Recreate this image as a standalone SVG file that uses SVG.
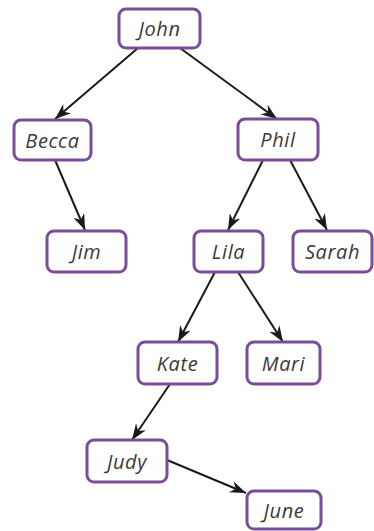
<svg xmlns="http://www.w3.org/2000/svg" width="374" height="531" viewBox="0 0 374 531">
  <style>
    .box { fill: #ffffff; stroke: #7a4d98; stroke-width: 3; }
    .lbl { font-family: "Open Sans", "Noto Sans", sans-serif; font-style: italic; font-size: 20px; letter-spacing: 0.6px; fill: #3a3a3a; text-anchor: middle; dominant-baseline: central; }
    .edge { stroke: #1a1a1a; stroke-width: 2; fill: none; marker-end: url(#head); }
  </style>
  <defs>
    <marker id="head" viewBox="0 0 16 12" markerWidth="16" markerHeight="12" refX="16" refY="6" orient="auto" markerUnits="userSpaceOnUse">
      <path d="M0,0 L16,6 L0,12 L5,6 Z" fill="#1a1a1a"/>
    </marker>
  </defs>
  <rect width="374" height="531" fill="#ffffff"/>

  <g id="connectors">
    <line class="edge" x1="138" y1="48" x2="55" y2="119"/>
    <line class="edge" x1="180" y1="48" x2="277" y2="119"/>
    <line class="edge" x1="55" y1="160" x2="85" y2="230"/>
    <line class="edge" x1="263" y1="160" x2="228" y2="230"/>
    <line class="edge" x1="290" y1="160" x2="327" y2="230"/>
    <line class="edge" x1="215" y1="272" x2="178" y2="342"/>
    <line class="edge" x1="238" y1="272" x2="283" y2="342"/>
    <line class="edge" x1="170" y1="384" x2="132" y2="440"/>
    <line class="edge" x1="167" y1="460" x2="246" y2="493"/>
  </g>

  <g id="john">
    <rect class="box" x="119" y="9" width="81" height="39" rx="7"/>
    <text class="lbl" x="159.5" y="28.5">John</text>
  </g>
  <g id="becca">
    <rect class="box" x="14" y="120" width="77" height="40" rx="7"/>
    <text class="lbl" x="52.5" y="140">Becca</text>
  </g>
  <g id="phil">
    <rect class="box" x="238" y="119" width="80" height="41" rx="7"/>
    <text class="lbl" x="278" y="139.5">Phil</text>
  </g>
  <g id="jim">
    <rect class="box" x="47" y="231" width="79" height="41" rx="7"/>
    <text class="lbl" x="86.5" y="251.5">Jim</text>
  </g>
  <g id="lila">
    <rect class="box" x="194" y="231" width="69" height="41" rx="7"/>
    <text class="lbl" x="228.5" y="251.5">Lila</text>
  </g>
  <g id="sarah">
    <rect class="box" x="293" y="231" width="79" height="41" rx="7"/>
    <text class="lbl" x="332.5" y="251.5">Sarah</text>
  </g>
  <g id="kate">
    <rect class="box" x="138" y="342" width="79" height="42" rx="7"/>
    <text class="lbl" x="177.5" y="363">Kate</text>
  </g>
  <g id="mari">
    <rect class="box" x="247" y="342" width="73" height="42" rx="7"/>
    <text class="lbl" x="283.5" y="363">Mari</text>
  </g>
  <g id="judy">
    <rect class="box" x="87" y="440" width="80" height="42" rx="7"/>
    <text class="lbl" x="127" y="461">Judy</text>
  </g>
  <g id="june">
    <rect class="box" x="247" y="491" width="74" height="38" rx="7"/>
    <text class="lbl" x="284" y="510">June</text>
  </g>
</svg>
